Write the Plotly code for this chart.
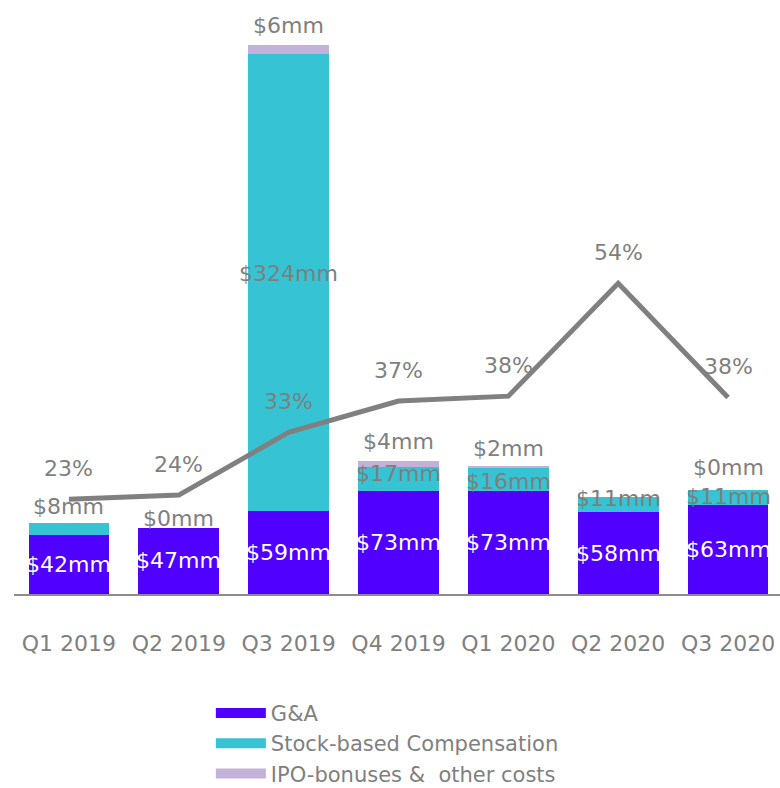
import plotly.graph_objects as go

quarters = ["Q1 2019", "Q2 2019", "Q3 2019", "Q4 2019", "Q1 2020", "Q2 2020", "Q3 2020"]
ga = [42, 47, 59, 73, 73, 58, 63]
sbc = [8, 0, 324, 17, 16, 11, 11]
ipo = [None, None, 6, 4, 2, None, 0]
pct = [23.0, 23.6, 32.6, 37.1, 37.8, 54.0, 37.6]

# label style offsets (pixels)
sbc_shift = [23, 9, 9, 6, -2, 6, 1]
ipo_shift = [0, 0, 5, 5, 3, 0, 8]

C_GA = "#5000FF"
C_SBC = "#36C3D3"
C_IPO = "#C3B1D8"
C_LINE = "#808080"
C_TXT = "#7f7f7f"
FONT = "DejaVu Sans"
FS = 22

fig = go.Figure()
fig.add_trace(go.Bar(x=quarters, y=ga, marker_color=C_GA, showlegend=False,
                     marker_line_width=0, hoverinfo="skip"))
fig.add_trace(go.Bar(x=quarters, y=sbc, marker_color=C_SBC, showlegend=False,
                     marker_line_width=0, hoverinfo="skip"))
fig.add_trace(go.Bar(x=quarters, y=[v if v is not None else 0 for v in ipo],
                     marker_color=C_IPO, showlegend=False,
                     marker_line_width=0, hoverinfo="skip"))
fig.add_trace(go.Scatter(x=quarters, y=pct, mode="lines", yaxis="y2",
                         line=dict(color=C_LINE, width=5), showlegend=False,
                         hoverinfo="skip"))

# legend proxies
for name, col in [("G&A", C_GA), ("Stock-based Compensation", C_SBC),
                  ("IPO-bonuses &  other costs", C_IPO)]:
    fig.add_trace(go.Scatter(x=[None], y=[None], mode="lines", name=name,
                             line=dict(color=col, width=14)))

ann = []
for i, q in enumerate(quarters):
    ann.append(dict(x=q, y=ga[i] / 2, text=f"${ga[i]}mm", showarrow=False,
                    font=dict(color="white", size=FS, family=FONT), yref="y"))
    ann.append(dict(x=q, y=ga[i] + sbc[i] / 2, text=f"${sbc[i]}mm", showarrow=False,
                    yshift=sbc_shift[i],
                    font=dict(color=C_TXT, size=FS, family=FONT), yref="y"))
    if ipo[i] is not None:
        ann.append(dict(x=q, y=ga[i] + sbc[i] + ipo[i], text=f"${ipo[i]}mm",
                        showarrow=False, yanchor="bottom", yshift=ipo_shift[i],
                        font=dict(color=C_TXT, size=FS, family=FONT), yref="y"))
    ann.append(dict(x=q, y=pct[i], text=f"{round(pct[i])}%", showarrow=False,
                    yref="y2", yshift=31,
                    font=dict(color=C_TXT, size=FS, family=FONT)))

fig.update_layout(
    width=780, height=788,
    margin=dict(l=14, r=0, t=20, b=194, autoexpand=False),
    paper_bgcolor="white", plot_bgcolor="white",
    barmode="stack", bargap=0.264,
    font=dict(family=FONT, color=C_TXT, size=FS),
    xaxis=dict(range=[-0.5, 6.473], showgrid=False, showline=True,
               linecolor="#8c8c8c", linewidth=2, ticks="",
               ticklabelstandoff=29,
               tickfont=dict(size=FS, color=C_TXT, family=FONT), fixedrange=True),
    yaxis=dict(range=[0, 407], visible=False, showgrid=False, fixedrange=True),
    yaxis2=dict(range=[9.4, 91.8], overlaying="y", visible=False,
                showgrid=False, fixedrange=True),
    legend=dict(x=0.257, y=-0.172, xanchor="left", yanchor="top",
                traceorder="normal",
                font=dict(size=21, color=C_TXT, family=FONT),
                itemwidth=50, tracegroupgap=0, bgcolor="rgba(0,0,0,0)"),
    annotations=ann,
)

fig.write_html("out.html")
